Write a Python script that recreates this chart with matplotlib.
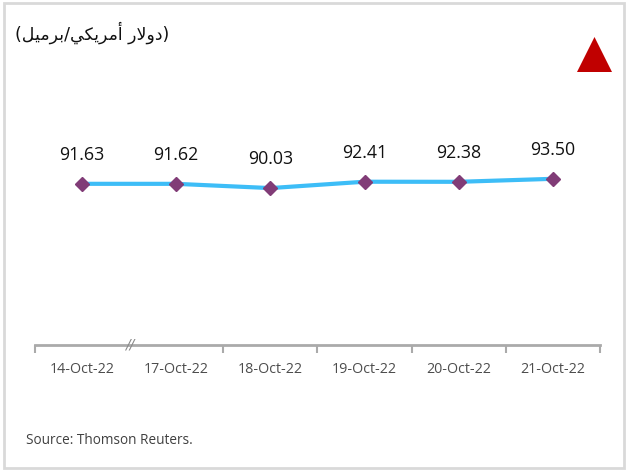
import matplotlib
matplotlib.use('Agg')
import matplotlib.pyplot as plt
from matplotlib.patches import Polygon, Rectangle
import matplotlib.transforms as mtransforms

dates = ['14-Oct-22', '17-Oct-22', '18-Oct-22', '19-Oct-22', '20-Oct-22', '21-Oct-22']
prices = [91.63, 91.62, 90.03, 92.41, 92.38, 93.50]
title_ar = '(دولار أمريكي/برميل)'
source = 'Source: Thomson Reuters.'

# matplotlib has no arabic shaping -> map letters to presentation forms by hand
forms = {  # isolated, final, initial, medial
    'د': ('\uFEA9', '\uFEAA', None, None),
    'و': ('\uFEED', '\uFEEE', None, None),
    'ا': ('\uFE8D', '\uFE8E', None, None),
    'ر': ('\uFEAD', '\uFEAE', None, None),
    'أ': ('\uFE83', '\uFE84', None, None),
    'لا': ('\uFEFB', '\uFEFC', None, None),
    'ل': ('\uFEDD', '\uFEDE', '\uFEDF', '\uFEE0'),
    'م': ('\uFEE1', '\uFEE2', '\uFEE3', '\uFEE4'),
    'ي': ('\uFEF1', '\uFEF2', '\uFEF3', '\uFEF4'),
    'ك': ('\uFED9', '\uFEDA', '\uFEDB', '\uFEDC'),
    'ب': ('\uFE8F', '\uFE90', '\uFE91', '\uFE92'),
}

def shape(word):
    letters = []
    i = 0
    while i < len(word):
        if word[i:i+2] == 'لا':
            letters.append('لا'); i += 2
        else:
            letters.append(word[i]); i += 1
    out = []
    for k, c in enumerate(letters):
        f = forms[c]
        prev_join = k > 0 and forms[letters[k-1]][2] is not None
        next_join = k < len(letters) - 1 and f[2] is not None
        if prev_join and next_join:
            out.append(f[3])
        elif prev_join:
            out.append(f[1])
        elif next_join:
            out.append(f[2])
        else:
            out.append(f[0])
    return ''.join(out)

def visual(text):
    inner = text[1:-1]
    parts = inner.replace('/', ' / ').split(' ')
    vis = []
    for p in parts:
        if p == '/':
            vis.append('/')
        elif p:
            vis.append(shape(p)[::-1])
    s = ''
    for p in reversed(vis):
        if s and p != '/' and not s.endswith('/'):
            s += ' '
        s += p
    return '(' + s + ')'

fig = plt.figure(figsize=(6.28, 4.71), dpi=100)
ax = fig.add_axes([35/628, 1-345/471, 565/628, 245/471])

x = list(range(len(dates)))
ax.plot(x, prices, color='#3DBDF7', lw=3, zorder=2)
ax.plot(x, prices, ls='none', marker='D', ms=7.5, color='#813C77', zorder=3)
for xi, v in zip(x, prices):
    ax.annotate(f'{v:.2f}', (xi, v), xytext=(0, 21), textcoords='offset points',
                ha='center', va='center', fontsize=12.8, family='Open Sans', color='#111111')

ax.set_xlim(-0.5, len(dates) - 0.5)
ax.set_ylim(31.3, 123.0)
ax.set_xticks(x)
ax.set_xticklabels(dates, fontsize=10.3, family='Open Sans', color='#4D4D4D')
ax.set_xticks([-0.5, 1.5, 2.5, 3.5, 4.5, 5.5], minor=True)
ax.tick_params(axis='x', which='major', length=0, pad=12)
ax.tick_params(axis='x', which='minor', length=6, width=1.5, color='#AAAAAA', direction='out')
ax.set_yticks([])
for s in ['top', 'right', 'left']:
    ax.spines[s].set_visible(False)
ax.spines['bottom'].set_color('#AAAAAA')
ax.spines['bottom'].set_linewidth(2)

trans = mtransforms.blended_transform_factory(ax.transData, ax.transAxes)
ax.text(0.5, 0.0, '//', transform=trans, ha='center', va='center', fontsize=10,
        color='#888888', family='DejaVu Sans', style='italic')

fig.text(15/628, 1-33/471, visual(title_ar), fontsize=12.5, family='DejaVu Sans',
         color='#111111', va='center', ha='left')
fig.text(26/628, 1-440/471, source, fontsize=9.8, family='Open Sans', color='#404040',
         va='center', ha='left')

fig.add_artist(Polygon([[577/628, 1-72/471], [612/628, 1-72/471], [594.5/628, 1-37/471]],
                       closed=True, transform=fig.transFigure, facecolor='#C00000',
                       edgecolor='none'))
fig.add_artist(Rectangle((4/628, 3/471), 620/628, 465/471, transform=fig.transFigure,
                         fill=False, edgecolor='#D9D9D9', lw=2))

fig.savefig('out.png', dpi=100)
